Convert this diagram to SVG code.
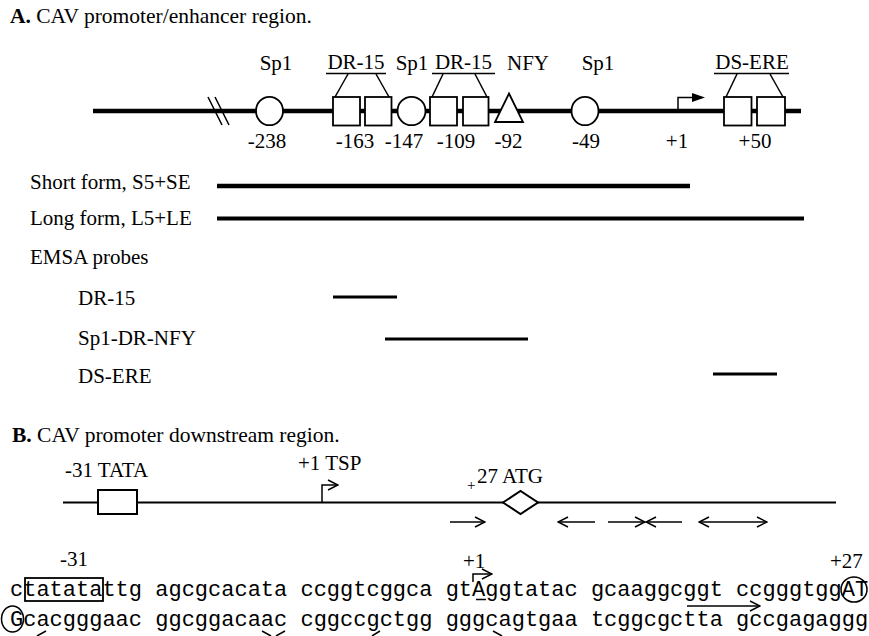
<svg xmlns="http://www.w3.org/2000/svg" width="869" height="636" viewBox="0 0 869 636">
<defs>
<style>
.t{font-family:"Liberation Serif","Times New Roman",serif;font-size:21px;fill:#000}
.h{font-family:"Liberation Serif","Times New Roman",serif;font-size:21.5px;fill:#000}
.b{font-weight:bold}
.m{font-family:"Liberation Mono","Courier New",monospace;font-size:22px;fill:#000}
.c{text-anchor:middle}
.shape{fill:#fff;stroke:#000;stroke-width:1.8}
.thin{stroke:#000;stroke-width:1.5;fill:none}
.mid{stroke:#000;stroke-width:2;fill:none}
.thick{stroke:#000;stroke-width:4.3;fill:none}
.probe{stroke:#000;stroke-width:2.8;fill:none}
</style>
<marker id="open" viewBox="0 0 12 12" refX="11" refY="6" markerWidth="12" markerHeight="12" markerUnits="userSpaceOnUse" orient="auto-start-reverse">
<path d="M1,1 L11,6 L1,11" fill="none" stroke="#000" stroke-width="1.5"/>
</marker>
<marker id="solid" viewBox="0 0 13 10" refX="1" refY="5" markerWidth="13" markerHeight="10" markerUnits="userSpaceOnUse" orient="auto">
<path d="M0,0.5 L13,5 L0,9.5 Z" fill="#000"/>
</marker>
</defs>
<rect width="869" height="636" fill="#fff"/>

<!-- Titles -->
<text class="h" x="10" y="23"><tspan class="b">A.</tspan> CAV promoter/enhancer region.</text>
<text class="h" x="12" y="442"><tspan class="b">B.</tspan> CAV promoter downstream region.</text>

<!-- connectors / lines -->
<g id="connectors">
  <line class="thick" x1="93" y1="111" x2="801" y2="111"/>
  <line class="thin" x1="208" y1="97" x2="222" y2="125"/>
  <line class="thin" x1="215" y1="97" x2="229" y2="125"/>
  <!-- DR-15 brackets -->
  <line class="thin" x1="326" y1="73.5" x2="386" y2="73.5"/>
  <line class="thin" x1="348" y1="74" x2="335" y2="97"/>
  <line class="thin" x1="376" y1="74" x2="389" y2="97"/>
  <line class="thin" x1="432" y1="73.5" x2="495" y2="73.5"/>
  <line class="thin" x1="443" y1="74" x2="432" y2="97"/>
  <line class="thin" x1="475" y1="74" x2="487" y2="97"/>
  <line class="thin" x1="714" y1="73.5" x2="789" y2="73.5"/>
  <line class="thin" x1="737" y1="74" x2="726" y2="97"/>
  <line class="thin" x1="770" y1="74" x2="783" y2="97"/>
  <!-- +1 arrow in A -->
  <polyline class="thin" points="678,111 678,97.5 693,97.5" marker-end="url(#solid)"/>
  <!-- forms -->
  <line class="thick" x1="217" y1="186" x2="690" y2="186"/>
  <line class="thick" x1="217" y1="218.5" x2="804" y2="218.5" style="stroke-width:3.8"/>
  <line class="probe" x1="333" y1="297" x2="397" y2="297"/>
  <line class="probe" x1="385" y1="339" x2="528" y2="339"/>
  <line class="probe" x1="713" y1="374" x2="777" y2="374"/>
  <!-- B line -->
  <line class="mid" x1="63" y1="502.5" x2="836" y2="502.5"/>
  <polyline class="thin" points="322,502 322,485 338,485" marker-end="url(#open)"/>
  <line class="thin" x1="450" y1="522" x2="485" y2="522" marker-end="url(#open)"/>
  <line class="thin" x1="558" y1="522" x2="595" y2="522" marker-start="url(#open)"/>
  <line class="thin" x1="608" y1="522" x2="645" y2="522" marker-end="url(#open)"/>
  <line class="thin" x1="646" y1="522" x2="682" y2="522" marker-start="url(#open)"/>
  <line class="thin" x1="699" y1="522" x2="767" y2="522" marker-start="url(#open)" marker-end="url(#open)"/>
  <!-- sequence annotations -->
  <polyline class="thin" points="473,582 473,574 492,574" marker-end="url(#open)"/>
  <line class="thin" x1="476" y1="599.5" x2="486" y2="599.5"/>
  <line class="thin" x1="687" y1="606" x2="760" y2="606" marker-end="url(#open)"/>
  <line class="thin" x1="37" y1="636" x2="46" y2="631"/>
  <line class="thin" x1="262" y1="631" x2="271" y2="636"/>
  <line class="thin" x1="276" y1="636" x2="285" y2="631"/>
  <line class="thin" x1="372" y1="636" x2="380" y2="631"/>
  <line class="thin" x1="493" y1="631" x2="502" y2="636"/>
</g>

<!-- Section A nodes -->
<g id="sp1-238">
  <ellipse class="shape" cx="269.5" cy="111" rx="13.5" ry="14.2"/>
  <text class="t c" x="276" y="70">Sp1</text>
  <text class="t c" x="267" y="148">-238</text>
</g>
<g id="dr15-163">
  <rect class="shape" x="333" y="97" width="27" height="28.5"/>
  <rect class="shape" x="365" y="97" width="26.5" height="28.5"/>
  <text class="t c" x="356" y="69">DR-15</text>
  <text class="t c" x="355" y="148">-163</text>
</g>
<g id="sp1-147">
  <ellipse class="shape" cx="411.5" cy="111" rx="14" ry="14.2"/>
  <text class="t c" x="412" y="70">Sp1</text>
  <text class="t c" x="404" y="148">-147</text>
</g>
<g id="dr15-109">
  <rect class="shape" x="430" y="97" width="27" height="28.5"/>
  <rect class="shape" x="463" y="97" width="25.5" height="28.5"/>
  <text class="t c" x="463.5" y="69">DR-15</text>
  <text class="t c" x="456" y="148">-109</text>
</g>
<g id="nfy-92">
  <polygon class="shape" points="509,93.5 523,122 495,122"/>
  <text class="t c" x="528" y="70">NFY</text>
  <text class="t c" x="508.5" y="148">-92</text>
</g>
<g id="sp1-49">
  <ellipse class="shape" cx="585" cy="111" rx="13.5" ry="14.2"/>
  <text class="t c" x="598" y="70">Sp1</text>
  <text class="t c" x="586" y="148">-49</text>
</g>
<g id="tsp-plus1">
  <text class="t c" x="677" y="148">+1</text>
</g>
<g id="dsere-50">
  <rect class="shape" x="724" y="97" width="27.5" height="28.5"/>
  <rect class="shape" x="757" y="97" width="28" height="28.5"/>
  <text class="t c" x="752" y="69">DS-ERE</text>
  <text class="t c" x="755" y="148">+50</text>
</g>

<!-- Form labels -->
<g id="short-form"><text class="t" x="30" y="189">Short form, S5+SE</text></g>
<g id="long-form"><text class="t" x="30" y="225">Long form, L5+LE</text></g>
<g id="emsa"><text class="t" x="30" y="264">EMSA probes</text></g>
<g id="probe-dr15"><text class="t" x="78" y="305">DR-15</text></g>
<g id="probe-sp1drnfy"><text class="t" x="78" y="345">Sp1-DR-NFY</text></g>
<g id="probe-dsere"><text class="t" x="78" y="383">DS-ERE</text></g>

<!-- Section B nodes -->
<g id="tata">
  <rect class="shape" x="98" y="490" width="39" height="24" style="stroke-width:2"/>
  <text class="t" x="65" y="477">-31 TATA</text>
</g>
<g id="tsp">
  <text class="t" x="298" y="470">+1 TSP</text>
</g>
<g id="atg">
  <polygon class="shape" points="503,502.5 520.5,491 538,502.5 520.5,514" style="stroke-width:2"/>
  <text class="t" x="467" y="490" style="font-size:15px">+</text>
  <text class="t" x="477" y="483">27 ATG</text>
</g>

<!-- Sequence -->
<g id="sequence">
  <text class="t" x="60" y="566">-31</text>
  <text class="t" x="463" y="568">+1</text>
  <text class="t" x="830" y="568">+27</text>
  <text class="m" x="10" y="596">ctatatattg agcgcacata ccggtcggca gtAggtatac gcaaggcggt ccgggtggAT</text>
  <text class="m" x="10" y="626">Gcacgggaac ggcggacaac cggccgctgg gggcagtgaa tcggcgctta gccgagaggg</text>
  <rect x="25" y="578" width="78" height="23" fill="none" stroke="#000" stroke-width="1.8"/>
  <ellipse cx="854" cy="589.5" rx="13" ry="12.5" fill="none" stroke="#000" stroke-width="1.5"/>
  <ellipse cx="12.5" cy="619" rx="11" ry="13" fill="none" stroke="#000" stroke-width="1.5"/>
</g>
</svg>
